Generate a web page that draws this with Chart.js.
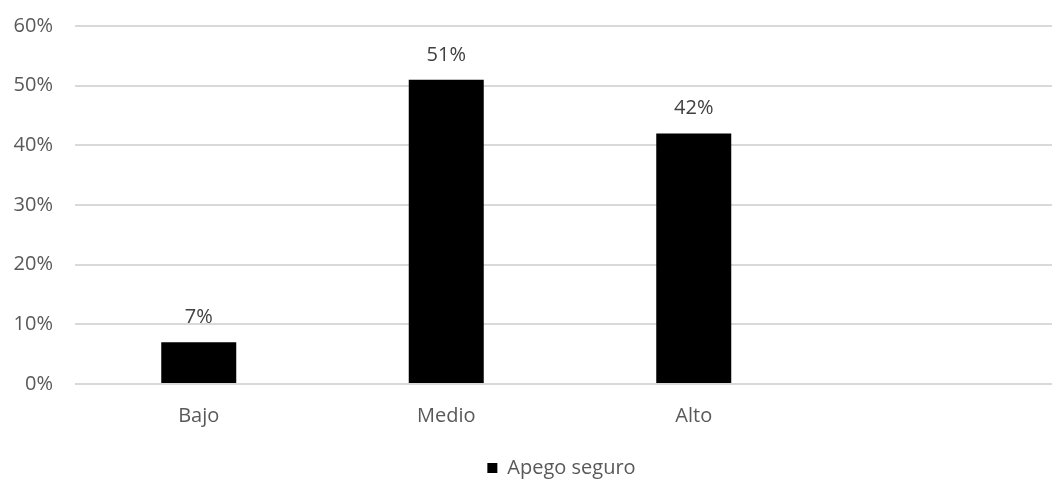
<!DOCTYPE html>
<html lang="es">
<head>
<meta charset="utf-8">
<title>Apego seguro</title>
<script src="https://cdn.jsdelivr.net/npm/chart.js@4"></script>
<style>
  html, body { margin: 0; padding: 0; background: #fff; overflow: hidden; }
  #wrap { width: 1065px; height: 480px; position: relative; }
</style>
</head>
<body>
<div id="wrap"><canvas id="apegoChart"></canvas></div>
<script>
// la cuarta categoria esta vacia (el grafico original queda cortado a la derecha)
const categories = ['Bajo', 'Medio', 'Alto', ''];
const seriesName = 'Apego seguro';
const apegoValues = [7, 51, 42, null];
const yTicks = [0, 10, 20, 30, 40, 50, 60];

const textColor = '#595959';
const fontFamily = '"Open Sans", "Noto Sans", sans-serif';

// etiquetas de valor encima de cada barra
const barValueLabels = {
  id: 'barValueLabels',
  afterDatasetsDraw(chart) {
    const ctx = chart.ctx;
    const meta = chart.getDatasetMeta(0);
    ctx.save();
    ctx.font = '20px ' + fontFamily;
    ctx.fillStyle = '#404040';
    ctx.textAlign = 'center';
    ctx.textBaseline = 'alphabetic';
    meta.data.forEach((bar, i) => {
      const v = chart.data.datasets[0].data[i];
      if (v == null) return;
      ctx.fillText(v + '%', bar.x, bar.y - 19);
    });
    ctx.restore();
  }
};

// la leyenda queda centrada bajo el area de trazado, no bajo todo el lienzo
const legendShift = {
  id: 'legendShift',
  afterLayout(chart) {
    const lg = chart.legend;
    lg.left += 29;
    lg.right += 29;
    lg.top += 8;
    lg.bottom += 8;
  }
};

new Chart(document.getElementById('apegoChart'), {
  type: 'bar',
  data: {
    labels: categories,
    datasets: [{
      label: seriesName,
      data: apegoValues,
      backgroundColor: '#000000',
      borderWidth: 0,
      categoryPercentage: 1,
      barPercentage: 0.303
    }]
  },
  options: {
    responsive: true,
    maintainAspectRatio: false,
    animation: false,
    layout: { padding: { top: 26, left: 0, right: 0, bottom: 0 } },
    plugins: {
      legend: {
        position: 'bottom',
        labels: {
          color: textColor,
          font: { family: fontFamily, size: 20 },
          boxWidth: 10,
          boxHeight: 10,
          padding: 0
        }
      },
      tooltip: { enabled: false }
    },
    scales: {
      x: {
        grid: { display: false, drawTicks: false },
        border: { display: false },
        ticks: {
          color: textColor,
          font: { family: fontFamily, size: 20 },
          padding: 20,
          maxRotation: 0
        },
        afterFit: scale => { scale.height = 66; }
      },
      y: {
        min: yTicks[0],
        max: yTicks[yTicks.length - 1],
        afterBuildTicks: scale => { scale.ticks = yTicks.map(v => ({ value: v })); },
        grid: { color: '#d9d9d9', lineWidth: 2, drawTicks: false },
        border: { display: false },
        ticks: {
          color: textColor,
          font: { family: fontFamily, size: 20 },
          padding: 22,
          callback: v => v + '%'
        },
        afterFit: scale => {
          scale.width = 75;
          scale.paddingTop = 0;
          scale.paddingBottom = 0;
        }
      }
    }
  },
  plugins: [barValueLabels, legendShift]
});
</script>
</body>
</html>
